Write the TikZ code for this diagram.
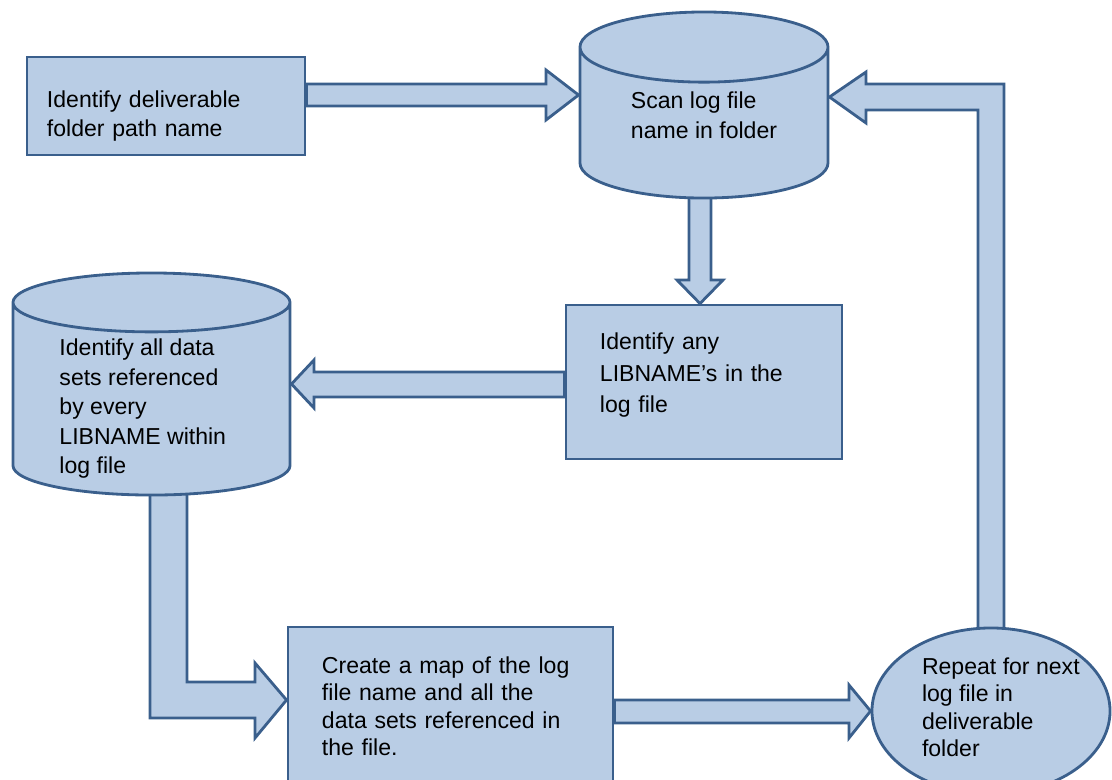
\documentclass[tikz,border=0pt]{standalone}
\usepackage{fontspec}
\setmainfont{Liberation Sans}
\usetikzlibrary{shapes.geometric,backgrounds,calc}

\definecolor{boxfill}{HTML}{B9CDE5}
\definecolor{boxline}{HTML}{3A5F8C}
\definecolor{capfill}{HTML}{D7E3F1}

\tikzset{
  base/.style={draw=boxline, line width=2pt, fill=boxfill, font=\fontsize{16.4}{21}\selectfont},
  process/.style={base, rectangle, align=left, inner ysep=0pt},
  store/.style={base, cylinder, shape border rotate=90, cylinder uses custom fill,
    cylinder body fill=boxfill, cylinder end fill=capfill, align=left, inner sep=0pt,
    anchor=shape center},
  loopback/.style={base, ellipse, align=left, inner ysep=0pt, inner xsep=-4pt,
    font=\fontsize{16.4}{19.6}\selectfont},
  blockarrow/.style={draw=boxline, line width=2pt, fill=boxfill, line join=miter},
}

\begin{document}
\begin{tikzpicture}[x=0.025cm, y=-0.025cm]
\useasboundingbox (0,0) rectangle (1112,779);

% boxes and stores
\node[process, text width=5.95cm, inner xsep=0.5cm, minimum height=2.45cm] (folder) at (166,106)
  {\rule{0pt}{26pt}Identify deliverable\\folder path name};
\node[store, minimum width=6.2cm, minimum height=4.65cm, aspect=0.48] (scan) at (704,105)
  {Scan log file\\name in folder\rule[-11.4pt]{0pt}{11.4pt}};
\node[process, text width=5.2cm, inner xsep=0.85cm, minimum height=3.85cm,
  font=\fontsize{16.4}{22.4}\selectfont] (libname) at (704,382)
  {Identify any\\LIBNAME’s in the\\log file\rule[-12.7pt]{0pt}{12.7pt}};
\node[store, minimum width=6.925cm, minimum height=5.55cm, aspect=0.32] (datasets) at (151.5,384)
  {\parbox[c][80pt][t]{4.6cm}{\raggedright\vspace*{-3pt}%
   Identify all data\\sets referenced\\by every\\LIBNAME within\\log file}};
\node[process, text width=6.425cm, inner xsep=0.85cm, minimum height=4.325cm,
  font=\fontsize{16.4}{19.6}\selectfont] (map) at (450.5,713.5)
  {Create a map of the log\\file name and all the\\data sets referenced in\\the file.\rule[-10.6pt]{0pt}{10.6pt}};
\node[loopback, minimum width=5.95cm, minimum height=4.15cm] (repeat) at (991,711)
  {\hspace*{14pt}Repeat for next\\\hspace*{14pt}log file in\\\hspace*{14pt}deliverable\\
   \hspace*{14pt}folder\rule[-5.7pt]{0pt}{5.7pt}};

% block arrows
\begin{scope}[on background layer]
\draw[blockarrow] (folder.east |- 0,84) -- (546,84) -- (546,70) -- (scan.west |- 0,95)
  -- (546,120) -- (546,106) -- (folder.east |- 0,106) -- cycle;
\draw[blockarrow] ($(scan.south -| 689,0)+(0,-10)$) -- (689,280) -- (677,280)
  -- (libname.north -| 700,0) -- (723,280) -- (711,280) -- ($(scan.south -| 711,0)+(0,-10)$) -- cycle;
\draw[blockarrow] (libname.west |- 0,372) -- (314,372) -- (314,360) -- (datasets.east |- 0,384)
  -- (314,408) -- (314,397) -- (libname.west |- 0,397) -- cycle;
\draw[blockarrow] ($(datasets.south -| 150,0)+(0,-10)$) -- (150,718) -- (255,718) -- (255,738)
  -- (map.west |- 0,700) -- (255,663) -- (255,682) -- (187,682)
  -- ($(datasets.south -| 187,0)+(0,-10)$) -- cycle;
\draw[blockarrow] (map.east |- 0,700) -- (849,700) -- (849,685) -- (repeat.west)
  -- (849,738) -- (849,723) -- (map.east |- 0,723) -- cycle;
\draw[blockarrow] ($(repeat.north -| 978,0)+(0,10)$) -- (978,110) -- (866,110) -- (866,123)
  -- (scan.east |- 0,97) -- (866,72) -- (866,84) -- (1004,84)
  -- ($(repeat.north -| 1004,0)+(0,10)$) -- cycle;
\end{scope}
\end{tikzpicture}
\end{document}
